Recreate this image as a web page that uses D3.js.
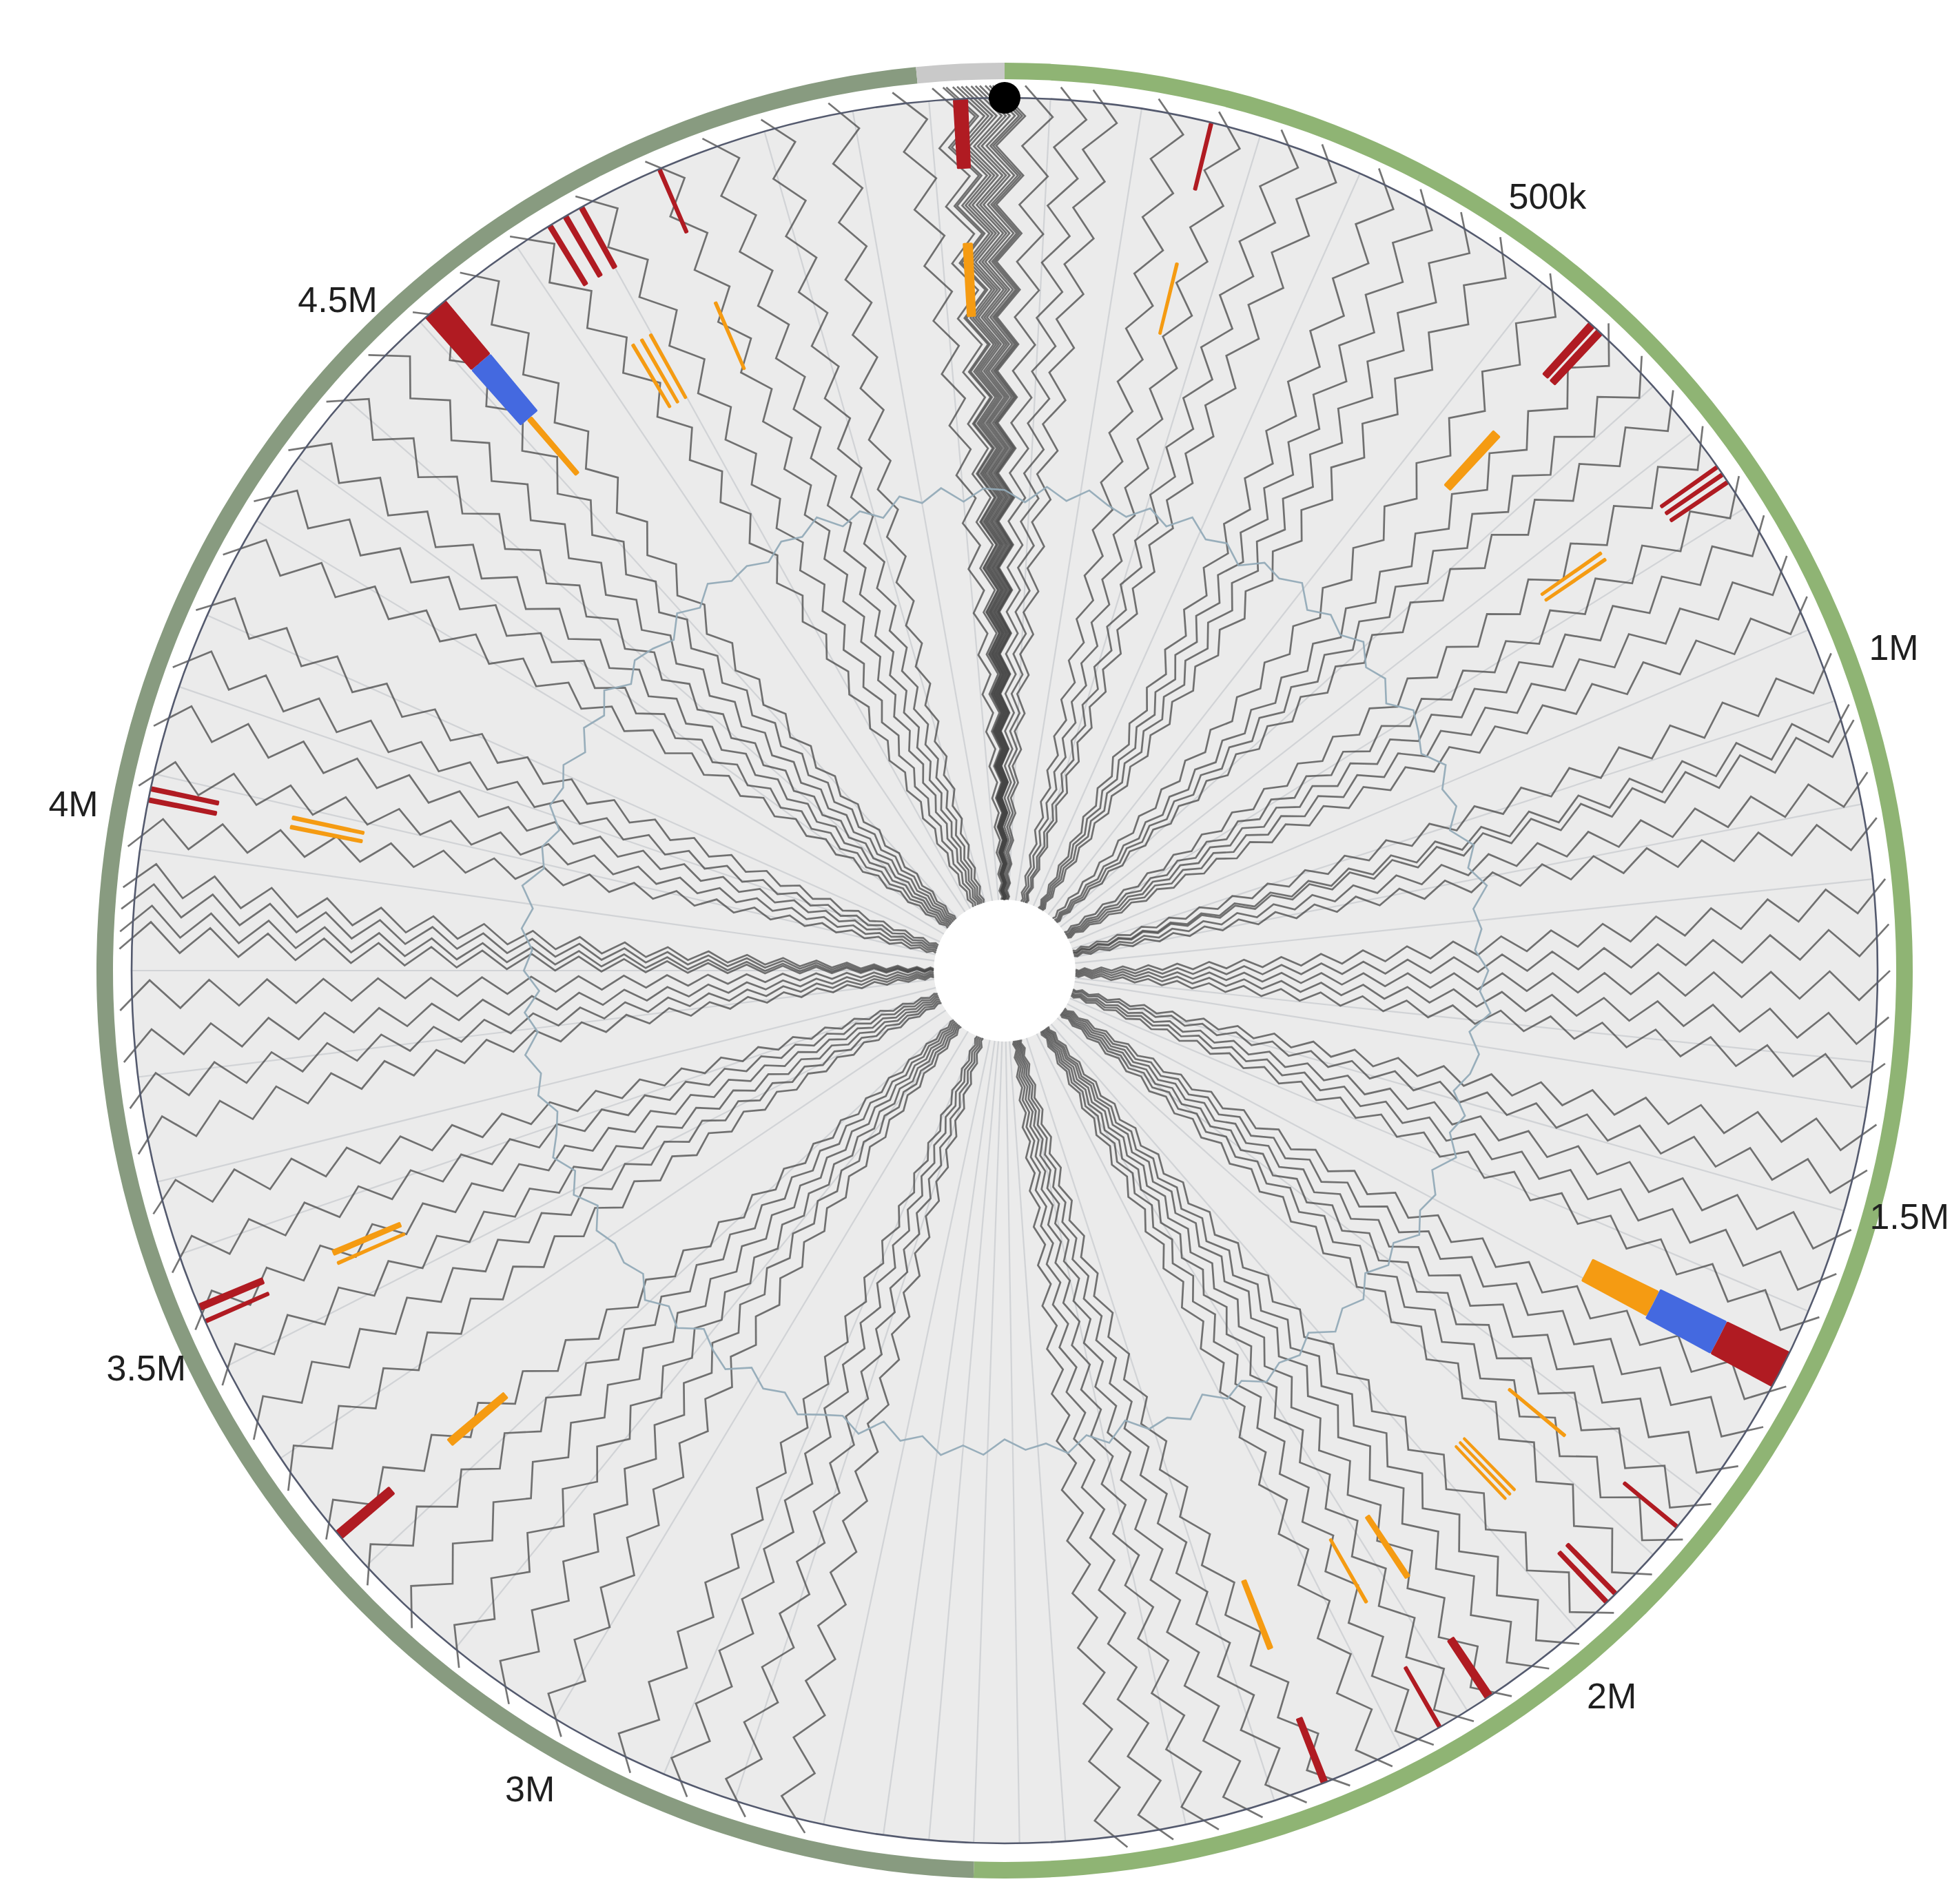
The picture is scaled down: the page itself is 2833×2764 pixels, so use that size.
<!DOCTYPE html>
<html>
<head>
<meta charset="utf-8">
<script src="https://cdn.jsdelivr.net/npm/d3@7"></script>
<style>
  html, body { margin: 0; padding: 0; background: #ffffff; }
  svg { display: block; }
</style>
</head>
<body>
<svg id="chart" width="2833" height="2764"></svg>
<script>
// ---- genome and axis ----
const genomeLength = 5140000;
const tickPositions = [500000, 1000000, 1500000, 2000000, 3000000, 3500000, 4000000, 4500000];
const originPosition = 0;

// backbone ring spans: [start bp, end bp, kind]
const backboneSpans = [
  [0, 2598000, "forward"],
  [2598000, 5060000, "reverse"],
  [5060000, 5140000, "unplaced"]
];

// ---- annotated features (bp) ----
const redFeatures = [
  [5091500, 5105700], [193500, 197700], [599700, 607500], [609700, 617500],
  [779600, 783800], [788100, 792400], [796700, 801000], [1654800, 1691900],
  [1848300, 1852500], [1933200, 1938200], [1944600, 1949600], [2084600, 2093100],
  [2140900, 2145200], [2259500, 2266600], [3274600, 3284600], [3514500, 3518800],
  [3527300, 3534500], [4013500, 4018500], [4024200, 4029200], [4546000, 4571700],
  [4688800, 4694500], [4705900, 4711700], [4723100, 4728800], [4805200, 4809500]
];
const blueFeatures = [
  [1654800, 1691900], [4546000, 4571700]
];
const orangeFeatures = [
  [5092900, 5104300], [193500, 197700], [601100, 612500], [783100, 787400],
  [791700, 796000], [1657700, 1689100], [1849700, 1854000], [1933200, 1936800],
  [1940300, 1943900], [1947500, 1951000], [2086700, 2093800], [2142400, 2146700],
  [2260900, 2268000], [3273200, 3283200], [3514500, 3518800], [3525900, 3533000],
  [4014900, 4019900], [4025600, 4030600], [4555300, 4562400], [4699500, 4703800],
  [4710900, 4715200], [4722400, 4726600], [4803800, 4808100]
];

// ---- reference spokes (kb) ----
const spokePositions = [
  43, 129, 243, 343, 543, 685, 742, 828, 957, 1028, 1128, 1199, 1371, 1414,
  1513, 1613, 1685, 1813, 1885, 1985, 2113, 2185, 2313, 2399, 2513, 2556,
  2599, 2641, 2684, 2741, 2827, 2898, 3013, 3127, 3241, 3370, 3470, 3584,
  3655, 3755, 3855, 3969, 4041, 4126, 4198, 4298, 4369, 4440, 4540, 4655,
  4726, 4912, 4997, 5069
];

// ---- branch bundles: root position and tip positions (kb) ----
const branchRoots = [5136, 214, 428, 642, 857, 1085, 1314, 1542, 1770, 2070, 2456, 2856, 3170, 3541, 3827, 4112, 4455, 4826];
const branchTips = [
  [5050, 5087, 5097, 5100, 5106, 5110, 5114, 5118, 5123, 5127, 5131, 5136, 0, 3, 6, 33, 66, 96],
  [157, 214, 274, 314],
  [371, 414, 457, 500],
  [557, 628, 671, 714],
  [757, 814, 857, 900, 942],
  [999, 1049, 1064, 1114, 1157],
  [1214, 1256, 1299, 1342, 1385],
  [1442, 1485, 1542, 1585, 1628],
  [1699, 1742, 1785, 1828, 1870, 1913],
  [1963, 2006, 2042, 2085, 2127, 2170, 2213],
  [2256, 2299, 2342, 2384, 2427, 2470],
  [2770, 2827, 2884, 2941],
  [3013, 3070, 3127, 3184, 3241, 3298],
  [3355, 3412, 3470, 3527, 3584, 3641],
  [3698, 3741, 3784, 3832, 3889, 3905, 3926, 3946],
  [3984, 4041, 4098, 4155, 4212],
  [4269, 4326, 4383, 4440, 4498, 4555, 4612],
  [4669, 4740, 4812, 4869, 4926, 4990]
];

// ---- GC content (%) in 144 windows around the genome ----
const gcContent = [
  50.4, 49.2, 50.9, 49.7, 51.1, 50.0, 49.3, 50.8, 49.6, 51.4, 49.9, 50.5,
  49.1, 50.7, 50.2, 51.2, 49.4, 50.6, 49.8, 51.0, 49.5, 50.3, 48.9, 50.8,
  50.1, 49.3, 51.0, 49.7, 50.4, 49.0, 50.9, 49.8, 51.3, 49.6, 50.2, 49.4,
  50.7, 49.9, 51.1, 49.2, 50.5, 50.0, 48.8, 50.6, 49.7, 51.2, 49.5, 50.9,
  50.3, 51.5, 49.8, 50.7, 49.4, 51.0, 50.1, 51.3, 49.6, 50.8, 50.2, 51.1,
  49.7, 50.6, 49.1, 50.9, 49.9, 50.4, 48.9, 50.7, 49.5, 51.0, 49.8, 50.3,
  49.2, 50.8, 50.0, 51.2, 49.6, 50.5, 49.0, 50.9, 49.7, 50.4, 51.3, 49.9,
  50.6, 49.4, 51.0, 50.2, 49.1, 50.8, 49.8, 51.1, 49.5, 50.3, 49.9, 50.7,
  49.3, 50.9, 49.7, 51.2, 50.0, 49.2, 50.6, 49.8, 51.0, 49.4, 50.5, 48.9,
  50.4, 49.6, 50.8, 49.9, 51.3, 49.5, 50.2, 49.0, 50.7, 50.1, 51.0, 49.6,
  50.9, 49.8, 51.2, 49.4, 50.6, 50.0, 49.1, 50.8, 49.7, 51.1, 49.9, 50.3,
  49.5, 50.7, 50.2, 51.4, 49.6, 50.5, 49.2, 50.9, 49.8, 51.0, 49.4, 50.6
];

// ---- layout ----
const width = 2833, height = 2764;
const cx = 1458, cy = 1409;
const holeR = 103, plotR = 1267, branchEndR = 1285;
const ringInner = 1294, ringOuter = 1318, labelR = 1373;

const angle = d3.scaleLinear().domain([0, genomeLength]).range([0, 2 * Math.PI]);
const kbAngle = kb => angle(kb * 1000);
const radial = d3.scaleLinear().domain([0, 1]).range([0, plotR]);
const gcRadius = d3.scaleLinear().domain([45, 55]).range([620, 764]);

const svg = d3.select("#chart");
svg.append("rect").attr("width", width).attr("height", height).attr("fill", "#ffffff");
const g = svg.append("g").attr("transform", `translate(${cx},${cy})`);

// backbone ring
const ringColor = { forward: "#8fb474", reverse: "#889b80", unplaced: "#c9c9c9" };
const ringArc = d3.arc().innerRadius(ringInner).outerRadius(ringOuter);
g.append("g").selectAll("path").data(backboneSpans).join("path")
  .attr("d", d => ringArc({ startAngle: angle(d[0]), endAngle: angle(d[1]) }))
  .attr("fill", d => ringColor[d[2]]);

// plot disk
g.append("path")
  .attr("d", d3.arc()({ innerRadius: holeR, outerRadius: plotR, startAngle: 0, endAngle: 2 * Math.PI }))
  .attr("fill", "#ebebeb");

// straight spokes
g.append("g").selectAll("line").data(spokePositions).join("line")
  .each(function (kb) {
    const a = kbAngle(kb);
    const p0 = d3.pointRadial(a, holeR), p1 = d3.pointRadial(a, plotR);
    d3.select(this).attr("x1", p0[0]).attr("y1", p0[1]).attr("x2", p1[0]).attr("y2", p1[1]);
  })
  .attr("stroke", "#d1d3d6").attr("stroke-width", 2.2);

// zigzag branches: each line leans part of the way toward its bundle root near the centre
const segments = 40;
const stepT = d3.range(segments + 1).map(k => k / segments);
const stepRadius = d3.scalePow().exponent(1.5).domain([0, 1]).range([holeR, branchEndR]);
const zigAmp = 0.017;
const rootPull = 0.6;
function branchPath(rootKb, tipKb) {
  const a1 = kbAngle(tipKb);
  let d = kbAngle(rootKb) - a1;
  if (d > Math.PI) d -= 2 * Math.PI;
  if (d < -Math.PI) d += 2 * Math.PI;
  return stepT.map((t, k) => {
    const r = stepRadius(t);
    const u = (r - holeR) / (branchEndR - holeR);
    const zig = k === 0 ? 0 : (k % 2 ? zigAmp : -zigAmp);
    return [a1 + d * rootPull * (1 - u) + zig, r];
  });
}
const branches = [];
branchRoots.forEach((root, i) => branchTips[i].forEach(tip => branches.push({ root, tip })));
const zigLine = d3.lineRadial().angle(p => p[0]).radius(p => p[1]);
g.append("g").selectAll("path").data(branches).join("path")
  .attr("d", d => zigLine(branchPath(d.root, d.tip)))
  .attr("fill", "none")
  .attr("stroke", "#454545")
  .attr("stroke-opacity", 0.74)
  .attr("stroke-width", 2.7)
  .attr("stroke-linejoin", "miter");

// GC content trace
const gcLine = d3.lineRadial()
  .angle((v, i) => (i / gcContent.length) * 2 * Math.PI)
  .radius(v => gcRadius(v))
  .curve(d3.curveLinearClosed);
g.append("path").attr("d", gcLine(gcContent))
  .attr("fill", "none").attr("stroke", "#93abb8").attr("stroke-width", 2.6).attr("stroke-opacity", 0.95);

// feature tracks
function drawTrack(features, band, color) {
  const arc = d3.arc().innerRadius(radial(band[0])).outerRadius(radial(band[1])).cornerRadius(2);
  g.append("g").selectAll("path").data(features).join("path")
    .attr("d", d => arc({ startAngle: angle(d[0]), endAngle: angle(d[1]) }))
    .attr("fill", color);
}
drawTrack(orangeFeatures, [0.75, 0.835], "#f59b12");
drawTrack(blueFeatures, [0.835, 0.92], "#4469e0");
drawTrack(redFeatures, [0.92, 1.0], "#b01b22");

// plot boundary
g.append("circle").attr("r", plotR).attr("fill", "none").attr("stroke", "#545a6e").attr("stroke-width", 2.6);

// origin marker
const origin = d3.pointRadial(angle(originPosition), plotR);
g.append("circle").attr("cx", origin[0]).attr("cy", origin[1]).attr("r", 23).attr("fill", "#000000");

// position labels (kept inside the drawing area)
const fmt = d3.format("~s");
const labelFont = 52;
g.append("g").selectAll("text").data(tickPositions).join("text")
  .attr("text-anchor", "middle")
  .attr("dominant-baseline", "central")
  .attr("font-family", "'Liberation Sans', Arial, sans-serif")
  .attr("font-size", labelFont)
  .attr("fill", "#1f1f1f")
  .text(d => fmt(d))
  .each(function (d) {
    const p = d3.pointRadial(angle(d), labelR);
    const half = this.getComputedTextLength() / 2;
    const x = Math.max(-cx + half + 4, Math.min(width - cx - half - 4, p[0]));
    d3.select(this).attr("x", x).attr("y", p[1]);
  });
</script>
</body>
</html>
